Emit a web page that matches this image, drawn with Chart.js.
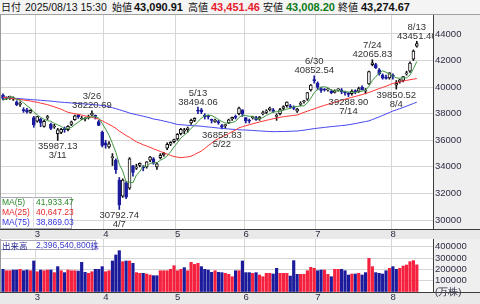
<!DOCTYPE html>
<html>
<head>
<meta charset="utf-8">
<script src="https://cdn.jsdelivr.net/npm/chart.js@4.4.1/dist/chart.umd.min.js"></script>
<style>
body { margin: 0; width: 480px; height: 304px; overflow: hidden; background: #fff; font-family: "Liberation Sans", Arial, sans-serif; }
#hdr { position: absolute; left: 0; top: 0; width: 480px; height: 14px; background: #f4f4f4; border-bottom: 1px solid #a0a0a0; white-space: nowrap; }
#hdr span { position: absolute; top: 0; line-height: 14px; font-size: 11px; color: #111; }
#hdr .lb { font-family: "Noto Sans CJK JP", sans-serif; font-size: 10px; }
#hdr .dt { font-size: 10.5px; }
#hdr .v { font-weight: bold; }
#main { position: absolute; left: 0; top: 15px; }
#vol { position: absolute; left: 0; top: 239px; }
</style>
</head>
<body>
<div id="hdr">
  <span class="lb" style="left:1px">日付</span>
  <span class="dt" style="left:25px">2025/08/13 15:30</span>
  <span class="lb" style="left:112px">始値</span>
  <span class="v" style="left:134px">43,090.91</span>
  <span class="lb" style="left:188px">高値</span>
  <span class="v" style="left:211px;color:#e8202c">43,451.46</span>
  <span class="lb" style="left:263px">安値</span>
  <span class="v" style="left:286px;color:#0f7a1a">43,008.20</span>
  <span class="lb" style="left:338px">終値</span>
  <span class="v" style="left:361px">43,274.67</span>
</div>
<div id="main"><canvas id="priceChart" width="480" height="224"></canvas></div>
<div id="vol"><canvas id="volChart" width="480" height="65"></canvas></div>
<script>
// trading days shown (Feb 14 - Aug 13, 2025)
const dates = [
  '02/14','02/17','02/18','02/19','02/20','02/21','02/25','02/26','02/27','02/28',
  '03/03','03/04','03/05','03/06','03/07','03/10','03/11','03/12','03/13','03/14',
  '03/17','03/18','03/19','03/21','03/24','03/25','03/26','03/27','03/28','03/31',
  '04/01','04/02','04/03','04/04','04/07','04/08','04/09','04/10','04/11','04/14',
  '04/15','04/16','04/17','04/18','04/21','04/22','04/23','04/24','04/25','04/28','04/30',
  '05/01','05/02','05/07','05/08','05/09','05/12','05/13','05/14','05/15','05/16',
  '05/19','05/20','05/21','05/22','05/23','05/26','05/27','05/28','05/29','05/30',
  '06/02','06/03','06/04','06/05','06/06','06/09','06/10','06/11','06/12','06/13',
  '06/16','06/17','06/18','06/19','06/20','06/23','06/24','06/25','06/26','06/27','06/30',
  '07/01','07/02','07/03','07/04','07/07','07/08','07/09','07/10','07/11','07/14',
  '07/15','07/16','07/17','07/18','07/22','07/23','07/24','07/25','07/28','07/29','07/30','07/31',
  '08/01','08/04','08/05','08/06','08/07','08/08','08/12','08/13'
];

const open = [
  39400,39170,39240,39100,38900,38700,38300,38300,38100,37700,
  37430,37600,37050,37700,37200,37000,36500,36600,36900,36800,
  37200,37550,37900,37600,37600,37700,37900,37800,37400,36600,
  35800,35500,34700,34500,33000,31800,32800,32400,34100,33900,
  34100,34000,34000,34500,34600,34000,34700,34900,35400,35700,35900,
  36100,36500,36700,36800,37300,37500,38200,38300,37900,37800,
  37500,37400,37400,37100,37100,37300,37600,37800,38000,38300,
  37700,37500,37700,37700,37600,38000,38100,38300,38300,37800,
  38000,38400,38600,38600,38500,38200,38700,38900,39100,39800,40500,
  40300,39900,39800,39800,39700,39600,39800,39800,39600,39500,
  39500,39700,39700,40000,39700,40250,41700,41700,41300,40900,40700,40700,
  40900,40150,40400,40500,41000,41200,42100,43090.91
];
const high = [
  39500,39270,39330,39270,38980,38900,38450,38400,38300,37800,
  37800,37650,37500,37880,37300,37200,36900,36900,37000,37100,
  37450,37900,37950,37800,37700,37900,38220.69,37900,37500,36700,
  36000,35900,35000,34600,33200,33100,32900,34700,34100,34200,
  34300,34100,34400,34800,34700,34300,35000,35100,35800,35900,36100,
  36500,36900,36900,37000,37600,37700,38494.06,38400,38000,37900,
  37600,37600,37500,37200,37200,37600,37750,37900,38500,38300,
  37700,37600,37800,37800,37800,38200,38300,38500,38400,38000,
  38400,38600,38900,38700,38600,38400,38900,39000,39600,40200,40852.54,
  40400,40000,39900,39900,39800,39800,39900,39900,39700,39600,
  39800,39800,40000,40100,39900,41200,42065.83,41800,41400,41000,40900,41100,
  41000,40500,40600,40800,41200,41900,42800,43451.46
];
const low = [
  39030,39060,39080,39000,38600,38550,38100,38050,38050,36980,
  37360,37020,36990,37560,36800,36900,35987.13,36500,36600,36700,
  37100,37500,37650,37550,37450,37600,37850,37600,37100,35500,
  35400,35400,34100,33500,30792.74,31700,31600,32300,33300,33800,
  34000,33700,33900,34400,34200,33800,34600,34800,35300,35600,35800,
  36000,36400,36500,36600,37200,37400,38000,38000,37600,37600,
  37300,37350,37200,36855.83,36900,37250,37500,37600,37900,37800,
  37300,37300,37600,37500,37500,37900,38000,38200,38100,37500,
  37900,38300,38500,38400,38300,38100,38600,38800,39000,39700,40300,
  39800,39600,39700,39700,39500,39550,39700,39500,39400,39288.90,
  39400,39500,39600,39800,39500,40200,41600,41400,40900,40600,40600,40600,
  40600,39850.52,40300,40400,40900,41100,42000,43008.20
];
const close = [
  39149,39174,39270,39164,38678,38776,38237,38142,38256,37155,
  37785,37331,37418,37704,36887,37028,36793,36819,36790,37053,
  37396,37846,37751,37677,37608,37780,38027,37799,37120,35617,
  35624,35725,34735,33780,31136,33012,31714,34609,33586,33982,
  34267,33920,34377,34730,34280,34220,34868,35039,35705,35839,36045,
  36452,36831,36780,36928,37503,37644,38183,38128,37755,37753,
  37498,37529,37299,36985,37160,37531,37724,37722,38432,37965,
  37470,37446,37747,37554,37741,38088,38211,38421,38173,37834,
  38311,38536,38885,38488,38403,38354,38790,38942,39584,40150,40487,
  39986,39762,39785,39810,39587,39688,39821,39646,39569,39459,
  39678,39663,39901,39819,39774,41171,41826,41456,40998,40674,40654,41069,
  40799,40290,40549,40794,41059,41820,42718,43274.67
];
const prevClose = 39461; // close of the day before the first candle

// volume, in 10k shares
const volume = [
  200000,188000,188000,194000,194000,200000,188000,194000,188000,274000,
  179000,194000,188000,194000,194000,171000,224000,188000,171000,194000,
  188000,188000,185000,262000,174000,165000,179000,200000,200000,224000,
  179000,188000,274000,327000,365000,268000,274000,274000,253000,171000,
  165000,165000,159000,150000,144000,144000,188000,188000,188000,200000,232000,
  188000,200000,215000,188000,262000,244000,253000,224000,200000,194000,
  174000,188000,174000,171000,165000,156000,135000,188000,188000,274000,
  171000,171000,165000,171000,150000,135000,165000,165000,159000,209000,
  165000,165000,165000,141000,277000,156000,156000,156000,188000,218000,209000,
  188000,194000,194000,156000,135000,200000,200000,200000,188000,150000,
  159000,159000,165000,150000,171000,297000,224000,171000,165000,159000,188000,209000,
  224000,200000,209000,229000,238000,268000,277000,239654
];

const ma5 = [
  39032,39110,39203,39244,39087,39012,38825,38599,38418,38113,
  37915,37734,37589,37479,37425,37274,37166,37046,36863,36897,
  36970,37181,37367,37545,37656,37732,37769,37778,37667,37269,
  36837,36377,35764,35096,34200,33678,32875,32850,32811,33381,
  33632,34073,34026,34255,34315,34305,34495,34627,34822,35134,35499,
  35816,36174,36389,36607,36899,37137,37408,37677,37843,37893,
  37863,37733,37567,37413,37294,37301,37340,37424,37714,37875,
  37863,37807,37812,37636,37592,37715,37868,38003,38127,38145,
  38190,38255,38348,38411,38525,38533,38584,38595,38815,39164,39591,
  39830,39994,40034,39966,39786,39726,39738,39710,39662,39637,
  39635,39603,39654,39704,39767,40066,40498,40809,41045,41225,41122,40970,
  40839,40697,40672,40700,40698,40902,41388,41933
];
const ma25 = [
  39230,39200,39170,39140,39100,39070,39030,38990,38960,38900,
  38860,38800,38740,38680,38600,38520,38430,38340,38220,38110,
  38050,38000,37950,37900,37835,37780,37720,37660,37590,37470,
  37330,37200,37060,36900,36690,36530,36360,36220,36050,35880,
  35780,35660,35570,35470,35360,35260,35160,35060,34960,34860,34780,
  34730,34690,34720,34750,34800,34930,35060,35190,35390,35590,
  35790,35990,36120,36250,36380,36510,36640,36776,36940,37020,
  37100,37170,37240,37310,37380,37440,37500,37560,37620,37680,
  37730,37770,37810,37840,37870,37900,38000,38100,38190,38280,38370,
  38460,38550,38630,38710,38790,38860,38940,39010,39092,39160,
  39230,39300,39370,39440,39520,39600,39700,39800,39890,39980,40070,40180,
  40283,40340,40400,40460,40510,40560,40600,40647
];
const ma75 = [
  39250,39220,39190,39170,39150,39130,39110,39090,39070,39050,
  39030,39010,38990,38970,38950,38920,38890,38870,38850,38830,
  38810,38790,38770,38750,38730,38710,38690,38670,38650,38620,
  38590,38520,38450,38380,38300,38220,38140,38050,37990,37930,
  37870,37810,37750,37680,37600,37560,37510,37450,37390,37330,37260,
  37190,37170,37150,37130,37110,37090,37080,37060,37030,37000,
  36980,36950,36920,36900,36870,36850,36830,36810,36790,36780,
  36770,36760,36740,36720,36710,36690,36670,36660,36650,36650,
  36660,36660,36670,36680,36690,36700,36730,36760,36800,36840,36880,
  36910,36940,36970,37000,37030,37050,37080,37110,37130,37170,
  37210,37260,37310,37360,37410,37460,37560,37660,37760,37870,37980,38090,
  38200,38290,38380,38470,38570,38670,38770,38869
];

const priceTicks = [30000, 32000, 34000, 36000, 38000, 40000, 42000, 44000];
const volumeTicks = [0, 100000, 200000, 300000, 400000];
const maNames = ['MA(5)', 'MA(25)', 'MA(75)'];
const maLatest = ['41,933.47', '40,647.23', '38,869.03'];
const volumeLatest = '2,396,540,800株';
// days marked with their high / low
const markedDays = [
  ['03/26', 'high'], ['03/11', 'low'], ['04/07', 'low'], ['05/13', 'high'], ['05/22', 'low'],
  ['06/30', 'high'], ['07/14', 'low'], ['07/24', 'high'], ['08/04', 'low'], ['08/13', 'high']
];

const NAVY = '#1b1b9c';
const RED_VOL = '#f5213e';
const GRID = '#d6d6d6';
const PANEL = '#efefef';
const X_MIN = -0.88, X_MAX = 125.73;
const FONT = 'Liberation Sans';

Chart.defaults.font.family = FONT;
Chart.defaults.font.size = 9.5;
Chart.defaults.color = '#2c2c44';

const monthStarts = [];
dates.forEach((d, i) => {
  if (i > 0 && d.slice(0, 2) !== dates[i - 1].slice(0, 2)) monthStarts.push(i);
});
const upCandle = close.map((c, i) => c >= open[i]);
const upDay = close.map((c, i) => c >= (i === 0 ? prevClose : close[i - 1]));
const pts = arr => arr.map((v, i) => ({ x: i, y: v }));

function monthAxis(h) {
  return {
    type: 'linear',
    min: X_MIN,
    max: X_MAX,
    offset: false,
    afterBuildTicks: s => { s.ticks = monthStarts.map(i => ({ value: i - 0.5 })); },
    afterFit: s => { s.height = h; s.paddingLeft = 0; s.paddingRight = 0; },
    grid: { color: GRID, drawTicks: false, offset: false },
    border: { display: false },
    ticks: {
      autoSkip: false,
      maxRotation: 0,
      padding: 0,
      labelOffset: 2,
      callback: v => String(parseInt(dates[Math.round(v + 0.5)].slice(0, 2), 10))
    }
  };
}

function rightAxis(min, max, ticks, fmt) {
  return {
    position: 'right',
    min: min,
    max: max,
    afterBuildTicks: s => { s.ticks = ticks.map(v => ({ value: v })); },
    // fixed width, and no extra room for the end labels
    afterFit: s => { s.width = 47; s.paddingTop = 0; s.paddingBottom = 0; },
    grid: { color: c => c.tick && c.tick.value === 0 ? 'rgba(0,0,0,0)' : GRID, drawTicks: false },
    border: { display: false },
    ticks: { padding: 2, autoSkip: false, callback: fmt }
  };
}

// backgrounds, panel borders
const framePlugin = {
  id: 'frame',
  beforeDraw(chart) {
    const { ctx, chartArea: a, width, height } = chart;
    ctx.save();
    ctx.fillStyle = '#fff';
    ctx.fillRect(0, 0, width, height);
    ctx.fillStyle = PANEL;
    ctx.fillRect(a.right, 0, width - a.right, height);
    ctx.fillStyle = '#e9e9e9';
    ctx.fillRect(0, a.bottom, width, height - a.bottom);
    ctx.restore();
  },
  afterDraw(chart) {
    const { ctx, chartArea: a, width } = chart;
    ctx.save();
    ctx.strokeStyle = '#3c3c3c';
    ctx.lineWidth = 1;
    ctx.beginPath();
    ctx.moveTo(a.right + 0.5, 0); ctx.lineTo(a.right + 0.5, a.bottom);
    ctx.moveTo(0, a.bottom + 0.5); ctx.lineTo(width, a.bottom + 0.5);
    ctx.stroke();
    ctx.strokeStyle = '#9a9a9a';
    ctx.beginPath();
    ctx.moveTo(0.5, 0); ctx.lineTo(0.5, a.bottom);
    ctx.stroke();
    ctx.restore();
  }
};

// high / low labels and the MA legend
const pricePlugin = {
  id: 'priceLabels',
  afterDatasetsDraw(chart) {
    const { ctx, chartArea: a, scales: { x, y } } = chart;
    ctx.save();
    ctx.beginPath();
    ctx.rect(a.left, a.top, a.right - a.left, a.bottom - a.top);
    ctx.clip();
    ctx.font = '9.5px ' + FONT;
    ctx.fillStyle = '#333';
    ctx.textAlign = 'center';
    ctx.textBaseline = 'middle';
    markedDays.forEach(([d, kind]) => {
      const i = dates.indexOf(d);
      const px = x.getPixelForValue(i);
      const day = parseInt(d.slice(0, 2), 10) + '/' + parseInt(d.slice(3), 10);
      if (kind === 'high') {
        const py = y.getPixelForValue(high[i]);
        ctx.fillText(high[i].toFixed(2), px, py - 5);
        ctx.fillText(day, px, py - 14);
      } else {
        const py = y.getPixelForValue(low[i]);
        ctx.fillText(low[i].toFixed(2), px, py + 6);
        ctx.fillText(day, px, py + 15);
      }
    });
    ctx.restore();
  },
  afterDraw(chart) {
    const { ctx, chartArea: a } = chart;
    const colors = ['#2b8a2b', '#e82a2a', '#3535e0'];
    const top = a.bottom - 32;
    ctx.save();
    ctx.fillStyle = '#fff';
    ctx.fillRect(0, top, 72, 32);
    ctx.strokeStyle = '#a9a9b4';
    ctx.lineWidth = 1;
    ctx.strokeRect(0.5, top + 0.5, 71, 31);
    ctx.beginPath();
    ctx.moveTo(33.5, top); ctx.lineTo(33.5, a.bottom);
    ctx.strokeStyle = '#dcdcdc';
    ctx.stroke();
    ctx.font = '8.5px ' + FONT;
    ctx.textBaseline = 'middle';
    maNames.forEach((n, k) => {
      ctx.fillStyle = colors[k];
      ctx.textAlign = 'left';
      ctx.fillText(n, 2, top + 5.5 + k * 10);
      ctx.fillText(maLatest[k], 36, top + 5.5 + k * 10);
    });
    ctx.restore();
  }
};

new Chart(document.getElementById('priceChart'), {
  data: {
    datasets: [
      { type: 'line', data: pts(ma5), borderColor: '#3f963f', borderWidth: 1, pointRadius: 0, order: 1 },
      { type: 'line', data: pts(ma25), borderColor: '#ff3434', borderWidth: 1, pointRadius: 0, order: 1 },
      { type: 'line', data: pts(ma75), borderColor: '#4646f2', borderWidth: 1, pointRadius: 0, order: 1 },
      {
        type: 'bar', order: 2, grouped: false, barThickness: 3, minBarLength: 1, borderSkipped: false, borderWidth: 1,
        data: dates.map((d, i) => ({ x: i, y: [Math.min(open[i], close[i]), Math.max(open[i], close[i])] })),
        backgroundColor: upCandle.map(u => u ? '#fff' : NAVY),
        borderColor: upCandle.map(u => u ? '#111' : NAVY)
      },
      {
        type: 'bar', order: 3, grouped: false, barThickness: 1,
        data: dates.map((d, i) => ({ x: i, y: [low[i], high[i]] })),
        backgroundColor: upCandle.map(u => u ? '#111' : NAVY)
      }
    ]
  },
  options: {
    responsive: false,
    animation: false,
    events: [],
    layout: { padding: 0 },
    plugins: { legend: { display: false }, tooltip: { enabled: false } },
    scales: {
      x: monthAxis(10),
      y: rightAxis(29323, 45430, priceTicks, v => String(v))
    }
  },
  plugins: [framePlugin, pricePlugin]
});

const volPlugin = {
  id: 'volLabel',
  afterDraw(chart) {
    const { ctx, chartArea: a } = chart;
    const num = volumeLatest.slice(0, -1);
    ctx.save();
    ctx.fillStyle = '#fff';
    ctx.fillRect(0, a.top + 1, 96, 10);
    ctx.strokeStyle = '#a9a9b4';
    ctx.lineWidth = 1;
    ctx.strokeRect(0.5, a.top + 1.5, 95, 9);
    ctx.font = '8.5px "Noto Sans CJK JP"';
    ctx.textBaseline = 'middle';
    ctx.fillStyle = '#1e1e8c';
    ctx.fillText('出来高', 2, a.top + 6.5);
    ctx.font = '8.5px ' + FONT;
    ctx.fillStyle = '#3b3bc8';
    ctx.fillText(num, 36, a.top + 6.5);
    const w = ctx.measureText(num).width;
    ctx.font = '8.5px "Noto Sans CJK JP"';
    ctx.fillText(volumeLatest.slice(-1), 36 + w, a.top + 6.5);
    ctx.restore();
  }
};

new Chart(document.getElementById('volChart'), {
  type: 'bar',
  data: {
    datasets: [{
      grouped: false,
      barThickness: 2.5,
      data: pts(volume),
      backgroundColor: upDay.map(u => u ? RED_VOL : NAVY)
    }]
  },
  options: {
    responsive: false,
    animation: false,
    events: [],
    layout: { padding: 0 },
    plugins: { legend: { display: false }, tooltip: { enabled: false } },
    scales: {
      x: monthAxis(12),
      y: rightAxis(0, 468000, volumeTicks, v => v === 0 ? '(万株)' : String(v))
    }
  },
  plugins: [framePlugin, volPlugin]
});
</script>
</body>
</html>
